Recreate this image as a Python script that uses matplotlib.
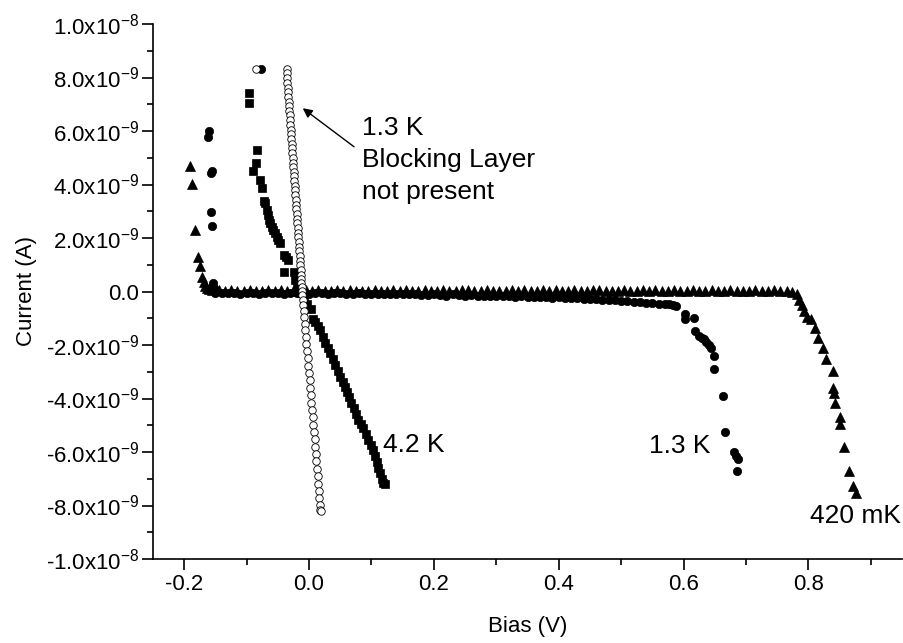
import math
import matplotlib
matplotlib.use('Agg')
import matplotlib.pyplot as plt
from matplotlib.ticker import MultipleLocator, FuncFormatter

plt.rcParams['font.family'] = ['Liberation Sans', 'DejaVu Sans']
plt.rcParams['mathtext.fontset'] = 'custom'
plt.rcParams['mathtext.rm'] = 'Liberation Sans'
plt.rcParams['mathtext.it'] = 'Liberation Sans:italic'
plt.rcParams['mathtext.default'] = 'regular'
plt.rcParams['axes.unicode_minus'] = False

NA = 1e-9  # values below are in units of 1e-9 A

# ---- 420 mK (filled triangles) ----
tri_x = [-0.190, -0.188, -0.182, -0.178, -0.175, -0.172, -0.169, -0.166, -0.163, -0.160,
         -0.155, -0.145, -0.135, -0.125, -0.115, -0.105, -0.095, -0.085, -0.075, -0.065,
         -0.055, -0.045, -0.035, -0.025, -0.015, -0.005, 0.005, 0.015, 0.025, 0.035,
         0.045, 0.055, 0.065, 0.075, 0.085, 0.095, 0.105, 0.115, 0.125, 0.135,
         0.145, 0.155, 0.165, 0.175, 0.185, 0.195, 0.205, 0.215, 0.225, 0.235,
         0.245, 0.255, 0.265, 0.275, 0.285, 0.295, 0.305, 0.315, 0.325, 0.335,
         0.345, 0.355, 0.365, 0.375, 0.385, 0.395, 0.405, 0.415, 0.425, 0.435,
         0.445, 0.455, 0.465, 0.475, 0.485, 0.495, 0.505, 0.515, 0.525, 0.535,
         0.545, 0.555, 0.565, 0.575, 0.585, 0.595, 0.605, 0.615, 0.625, 0.635,
         0.645, 0.655, 0.665, 0.675, 0.685, 0.695, 0.705, 0.715, 0.725, 0.735,
         0.745, 0.755, 0.765,
         0.773, 0.781, 0.785, 0.789, 0.793, 0.797, 0.804, 0.810, 0.816, 0.823,
         0.829, 0.839, 0.840, 0.841, 0.842, 0.851, 0.850, 0.857, 0.865, 0.872, 0.877]
tri_y = [4.69, 4.02, 2.30, 1.29, 0.95, 0.55, 0.36, 0.22, 0.14, 0.09,
         0.06, 0.04, 0.03, 0.05, 0.02, 0.03, 0.04, 0.02, 0.03, 0.05,
         0.02, 0.04, 0.03, 0.01, 0.03, 0.04, 0.02, 0.05, 0.03, 0.02,
         0.04, 0.03, 0.05, 0.02, 0.03, 0.01, 0.04, 0.03, 0.02, 0.05,
         0.03, 0.04, 0.02, 0.03, 0.05, 0.02, 0.01, 0.04, 0.03, 0.02,
         0.04, 0.05, 0.03, 0.02, 0.04, 0.03, 0.01, 0.03, 0.05, 0.02,
         0.04, 0.03, 0.02, 0.04, 0.03, 0.05, 0.02, 0.03, 0.04, 0.02,
         0.03, 0.05, 0.04, 0.02, 0.03, 0.01, 0.04, 0.03, 0.02, 0.04,
         0.03, 0.05, 0.02, 0.03, 0.04, 0.02, 0.03, 0.04, 0.02, 0.03,
         0.05, 0.02, 0.03, 0.04, 0.02, 0.03, 0.01, 0.04, 0.03, 0.02,
         0.04, 0.03, 0.02,
         -0.03, -0.10, -0.32, -0.50, -0.72, -0.94, -1.04, -1.38, -1.75, -2.12,
         -2.52, -2.96, -3.62, -3.78, -4.18, -4.68, -4.95, -5.80, -6.70, -7.26, -7.54]

# ---- 1.3 K (filled circles) ----
cir_x = [-0.162, -0.161, -0.157, -0.156, -0.157, -0.156, -0.154, -0.152,
         -0.150, -0.140, -0.130, -0.120, -0.110, -0.100, -0.090, -0.080, -0.070, -0.060,
         -0.050, -0.040, -0.030, -0.020, -0.010, 0.000,
         0.010, 0.020, 0.030, 0.040, 0.050, 0.060, 0.070, 0.080, 0.090, 0.100,
         0.110, 0.120, 0.130, 0.140, 0.150, 0.160, 0.170, 0.180, 0.190, 0.200,
         0.210, 0.220, 0.230, 0.240, 0.250, 0.260, 0.270, 0.280, 0.290, 0.300,
         0.310, 0.320, 0.330, 0.340, 0.350, 0.360, 0.370, 0.380, 0.390, 0.400,
         0.410, 0.420, 0.430, 0.440, 0.450, 0.460, 0.470, 0.480, 0.490, 0.500,
         0.510, 0.520, 0.530, 0.540, 0.550, 0.560, 0.570,
         0.576, 0.583, 0.588, 0.603, 0.602, 0.617, 0.619, 0.625, 0.629, 0.633,
         0.636, 0.640, 0.644, 0.648, 0.648, 0.664, 0.667, 0.681, 0.684, 0.688, 0.686,
         -0.077]
cir_y = [5.77, 6.01, 4.44, 4.52, 2.97, 2.45, 0.32, 0.12,
         -0.04, -0.06, -0.05, -0.07, -0.08, -0.06, -0.05, -0.08, -0.07, -0.05,
         -0.06, -0.08, -0.07, -0.05, -0.06, -0.08,
         -0.06, -0.07, -0.08, -0.07, -0.06, -0.08, -0.09, -0.07, -0.08, -0.10,
         -0.09, -0.08, -0.10, -0.09, -0.08, -0.11, -0.10, -0.12, -0.14, -0.11,
         -0.12, -0.15, -0.11, -0.13, -0.16, -0.14, -0.15, -0.17, -0.15, -0.16,
         -0.18, -0.16, -0.19, -0.18, -0.20, -0.19, -0.21, -0.22, -0.23, -0.22,
         -0.24, -0.25, -0.25, -0.27, -0.28, -0.29, -0.31, -0.32, -0.33, -0.35,
         -0.36, -0.38, -0.40, -0.42, -0.44, -0.45, -0.47,
         -0.47, -0.50, -0.54, -0.85, -1.04, -0.98, -1.47, -1.66, -1.72, -1.79,
         -1.88, -2.00, -2.10, -2.41, -2.90, -3.91, -5.26, -6.01, -6.15, -6.26, -6.70,
         8.32]

# ---- 4.2 K (filled squares) ----
sq_x = [-0.096, -0.096, -0.084, -0.085, -0.089, -0.0785, -0.076, -0.072, -0.0705, -0.068,
        -0.066, -0.064, -0.062, -0.060, -0.058, -0.0545, -0.052, -0.049, -0.0465, -0.0395,
        -0.037, -0.033, -0.0395, -0.024, -0.0225, -0.020, -0.017, -0.013, -0.008, -0.004,
        0.003, 0.006, 0.010, 0.014, 0.0176, 0.022, 0.026, 0.030, 0.0337, 0.038,
        0.0417, 0.046, 0.0497, 0.054, 0.0577, 0.061, 0.0646, 0.068, 0.0721, 0.076,
        0.079, 0.083, 0.087, 0.091, 0.095, 0.099, 0.102, 0.105, 0.1085, 0.111,
        0.114, 0.117, 0.119, 0.121]
sq_y = [7.41, 7.03, 5.29, 4.82, 4.52, 4.17, 3.86, 3.40, 3.30, 3.05,
        2.85, 2.67, 2.55, 2.42, 2.30, 2.18, 2.05, 1.93, 1.82, 1.36,
        1.28, 1.18, 0.74, 0.74, 0.43, 0.25, 0.10, -0.05, -0.25, -0.45,
        -0.67, -1.04, -1.15, -1.30, -1.44, -1.70, -1.94, -2.12, -2.31, -2.52,
        -2.75, -2.96, -3.18, -3.38, -3.56, -3.75, -3.93, -4.15, -4.37, -4.58,
        -4.80, -4.95, -5.11, -5.33, -5.55, -5.75, -5.93, -6.15, -6.36, -6.58,
        -6.80, -7.00, -7.17, -7.20]

# ---- 1.3 K, blocking layer not present (open circles) ----
oc_x = [-0.0850,
        -0.0361, -0.0356, -0.0352, -0.0346, -0.0341, -0.0335, -0.0331, -0.0325, -0.0320, -0.0314,
        -0.0309, -0.0305, -0.0298, -0.0293, -0.0289, -0.0283, -0.0277, -0.0273, -0.0267, -0.0262,
        -0.0257, -0.0251, -0.0246, -0.0241, -0.0236, -0.0230, -0.0226, -0.0220, -0.0214, -0.0210,
        -0.0204, -0.0199, -0.0194, -0.0188, -0.0183, -0.0178, -0.0173, -0.0167, -0.0162, -0.0157,
        -0.0152, -0.0146, -0.0141, -0.0136, -0.0131, -0.0125, -0.0121, -0.0116, -0.0112,
        -0.0107, -0.0100, -0.0093, -0.0085, -0.0077, -0.0068, -0.0059, -0.0050, -0.0041, -0.0031,
        -0.0021, -0.0011, -0.0001, 0.0009, 0.0019, 0.0029, 0.0038, 0.0048, 0.0058, 0.0068,
        0.0078, 0.0088, 0.0098, 0.0108, 0.0118, 0.0127, 0.0137, 0.0147, 0.0157, 0.0167,
        0.0176, 0.0183, 0.0190]
oc_y = [8.32,
        8.32, 8.15, 7.98, 7.80, 7.62, 7.45, 7.28, 7.10, 6.92, 6.75,
        6.58, 6.40, 6.22, 6.05, 5.88, 5.70, 5.52, 5.35, 5.18, 5.00,
        4.82, 4.65, 4.48, 4.30, 4.12, 3.95, 3.78, 3.60, 3.42, 3.25,
        3.08, 2.90, 2.72, 2.55, 2.38, 2.20, 2.02, 1.85, 1.68, 1.50,
        1.32, 1.15, 0.98, 0.80, 0.62, 0.45, 0.30, 0.15, 0.02,
        -0.12, -0.30, -0.50, -0.72, -0.95, -1.20, -1.45, -1.70, -1.95, -2.22,
        -2.50, -2.78, -3.05, -3.32, -3.60, -3.88, -4.15, -4.42, -4.70, -4.98,
        -5.25, -5.52, -5.80, -6.08, -6.35, -6.62, -6.90, -7.18, -7.45, -7.72,
        -7.98, -8.17, -8.22]

x_ticks = [-0.2, 0.0, 0.2, 0.4, 0.6, 0.8]
y_ticks = [-1.0e-8, -8.0e-9, -6.0e-9, -4.0e-9, -2.0e-9, 0.0, 2.0e-9, 4.0e-9, 6.0e-9, 8.0e-9, 1.0e-8]

fig = plt.figure(figsize=(9.04, 6.43), dpi=100)
ax = fig.add_axes([153 / 904, 1 - 559 / 643, (902 - 153) / 904, (559 - 24) / 643])

ax.plot(tri_x, [v * NA for v in tri_y], linestyle='none', marker='^', ms=7,
        color='black', mec='black', mew=0.5)
ax.plot(cir_x, [v * NA for v in cir_y], linestyle='none', marker='o', ms=6,
        color='black', mec='black', mew=0.5)
ax.plot(sq_x, [v * NA for v in sq_y], linestyle='none', marker='s', ms=5.4,
        color='black', mec='black', mew=0.5)
ax.plot(oc_x, [v * NA for v in oc_y], linestyle='none', marker='o', ms=5.4,
        mfc='white', mec='black', mew=0.6)

ax.set_xlim(-0.25, 0.95)
ax.set_ylim(-1.0e-8, 1.0e-8)
ax.set_xticks(x_ticks)
ax.set_yticks(y_ticks)
ax.xaxis.set_minor_locator(MultipleLocator(0.1))
ax.yaxis.set_minor_locator(MultipleLocator(1e-9))


def yfmt(v, pos):
    if abs(v) < 1e-20:
        return '0.0'
    e = int(math.floor(math.log10(abs(v)) + 1e-9))
    m = v / 10 ** e
    return '%.1fx10$^{%d}$' % (m, e)


ax.yaxis.set_major_formatter(FuncFormatter(yfmt))
ax.xaxis.set_major_formatter(FuncFormatter(lambda v, p: '%.1f' % v))

for s in ['top', 'right']:
    ax.spines[s].set_visible(False)
for s in ['left', 'bottom']:
    ax.spines[s].set_linewidth(1.2)
ax.tick_params(which='major', direction='out', length=8, width=1.2, labelsize=16)
ax.tick_params(axis='x', which='major', pad=3)
ax.tick_params(axis='y', which='major', pad=2)
ax.tick_params(which='minor', direction='out', length=4.5, width=1.2)

ax.set_xlabel('Bias (V)', fontsize=16, labelpad=15)
ax.set_ylabel('Current (A)', fontsize=16, labelpad=6)

fs = 19
ax.text(0.0845, 5.85e-9, '1.3 K', fontsize=fs, va='baseline', ha='left')
ax.text(0.0845, 4.65e-9, 'Blocking Layer', fontsize=fs, va='baseline', ha='left')
ax.text(0.0845, 3.46e-9, 'not present', fontsize=fs, va='baseline', ha='left')
ax.text(0.1186, -5.99e-9, '4.2 K', fontsize=fs, va='baseline', ha='left')
ax.text(0.545, -6.05e-9, '1.3 K', fontsize=fs, va='baseline', ha='left')
ax.text(0.802, -8.67e-9, '420 mK', fontsize=fs, va='baseline', ha='left')

ax.annotate('', xy=(-0.0101, 6.85e-9), xytext=(0.0721, 5.41e-9),
            arrowprops=dict(arrowstyle='-|>', color='black', lw=1.0,
                            mutation_scale=14, shrinkA=0, shrinkB=0))

fig.savefig('out.png', dpi=100)
